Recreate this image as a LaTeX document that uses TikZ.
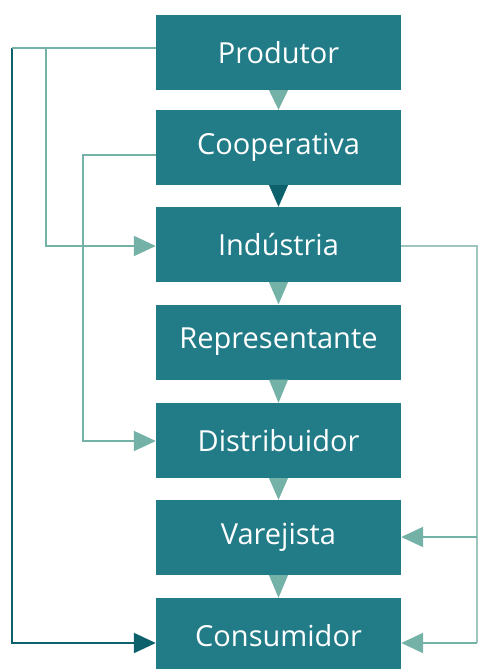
\documentclass[tikz,border=0pt]{standalone}
\usepackage{fontspec}
\setmainfont{Open Sans}
\usetikzlibrary{arrows.meta,calc}
\definecolor{boxc}{HTML}{217C88}
\definecolor{litec}{HTML}{74B1A6}
\definecolor{darkc}{HTML}{0C616C}
\definecolor{rightc}{HTML}{9CC6BE}
\begin{document}
\begin{tikzpicture}[x=1pt,y=-1pt,
  stagebox/.style={fill=boxc,text=white,minimum width=245pt,minimum height=75pt,inner sep=0pt,font=\fontsize{29}{32}\selectfont},
  lite/.style={draw=litec,line width=2pt},
  darkline/.style={draw=darkc,line width=2.2pt},
  tip/.style={-{Triangle[length=22pt,width=20pt]}},
  stepdown/.style={fill=litec},
  stepdark/.style={fill=darkc}]
\useasboundingbox (0,0) rectangle (478,669);
\clip (0,0) rectangle (478,669);
\node[stagebox] (prod) at (278.5,52.5) {Produtor};
\node[stagebox] (coop) at (278.5,147.5) {Cooperativa};
\node[stagebox] (ind)  at (278.5,244.5) {Indústria};
\node[stagebox] (rep)  at (278.5,342) {Representante};
\node[stagebox] (dist) at (278.5,440.5) {Distribuidor};
\node[stagebox] (var)  at (278.5,537.5) {Varejista};
\node[stagebox] (cons) at (278.5,635.5) {Consumidor};
% small triangles between boxes
\foreach \a/\b/\s in {prod/coop/stepdown,coop/ind/stepdark,ind/rep/stepdown,rep/dist/stepdown,dist/var/stepdown,var/cons/stepdown}{
  \fill[\s] ($(\a.south)+(-9.5,0)$) -- ($(\a.south)+(9.5,0)$) -- (\b.north) -- cycle;
}
% left connectors
\coordinate (pA) at ($(prod.west)+(0,-4.5)$);
\coordinate (pL) at (12,48);
\coordinate (pM) at (46,48);
\coordinate (consIn) at ($(cons.west)+(0,7.5)$);
\coordinate (indIn) at ($(ind.west)+(0,1.5)$);
\coordinate (cA) at ($(coop.west)+(0,7.5)$);
\coordinate (cL) at (83,155);
\coordinate (distIn) at ($(dist.west)+(0,0.5)$);
\draw[darkline,tip] (pL) -- (pL |- consIn) -- (consIn);
\draw[lite] (pA) -- (pL);
\draw[lite,tip] (pM) -- (pM |- indIn) -- (indIn);
\draw[lite,tip] (cA) -- (cL) -- (cL |- distIn) -- (distIn);
% right connectors
\coordinate (iA) at ($(ind.east)+(0,1.5)$);
\coordinate (iR) at (477,246);
\coordinate (varIn) at ($(var.east)+(0,-0.5)$);
\coordinate (consR) at ($(cons.east)+(0,7.5)$);
\draw[draw=rightc,line width=1.5pt] (iA) -- (iR) -- (iR |- consR);
\draw[lite,tip] (iR |- varIn) -- (varIn);
\draw[lite,tip] (iR |- consR) -- (consR);
\end{tikzpicture}
\end{document}
